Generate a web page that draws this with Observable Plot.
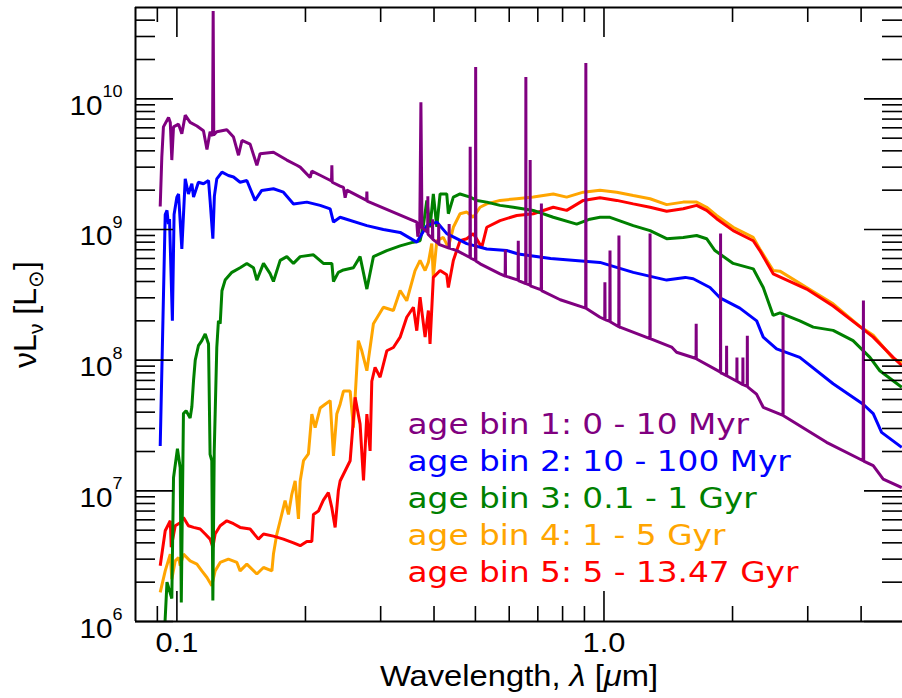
<!DOCTYPE html>
<html><head><meta charset="utf-8">
<script src="https://cdn.jsdelivr.net/npm/d3@7"></script>
<script src="https://cdn.jsdelivr.net/npm/@observablehq/plot@0.6"></script>
<style>html,body{margin:0;padding:0;background:#fff;overflow:hidden}</style>
</head><body><div id="chart"></div>
<script>
// wavelength [um], nu L_nu [L_sun]
const bin1 = [
[0.0914,1.5e9],[0.0922,3.6e9],[0.093,6.1e9],[0.0956,7.2e9],[0.0965,6.6e9],[0.0973,3.4e9],[0.0982,6.1e9],[0.1009,6.4e9],[0.1027,5.4e9],[0.1046,7.5e9],[0.1074,6.6e9],[0.1114,6.2e9],[0.1154,5.7e9],[0.1176,4.1e9],[0.1196,5.6e9],[0.1212,5.2e9],[0.1216,4.7e10],[0.122,5.3e9],[0.124,5.6e9],[0.1309,5.8e9],[0.1357,5.1e9],[0.1394,3.7e9],[0.142,4.8e9],[0.1484,4.5e9],[0.1539,3.1e9],[0.1566,3.8e9],[0.1683,3.9e9],[0.1809,3.4e9],[0.1909,3.1e9],[0.1944,3.0e9],[0.2051,2.5e9],[0.207,2.8e9],[0.2165,2.6e9],[0.2302,2.35e9],[0.2306,3.1e9],[0.231,2.3e9],[0.2411,2.15e9],[0.2455,2.1e9],[0.2477,1.75e9],[0.25,2.0e9],[0.2781,1.67e9],[0.2785,1.95e9],[0.2789,1.65e9],[0.3645,1.14e9],[0.3665,0.88e9],[0.3705,1.08e9],[0.3727,9.4e9],[0.3749,1.04e9],[0.3865,0.95e9],[0.3869,1.8e9],[0.3873,0.92e9],[0.3965,0.85e9],[0.3969,1.2e9],[0.3973,0.84e9],[0.4098,0.78e9],[0.4102,1.1e9],[0.4106,0.77e9],[0.4336,0.72e9],[0.434,1.1e9],[0.4344,0.72e9],[0.4525,6.9e8],[0.4855,6.1e8],[0.4861,4.3e9],[0.4867,6.05e8],[0.5001,5.8e8],[0.5007,1.75e10],[0.5013,5.75e8],[0.513,5.46e8],[0.571,4.58e8],[0.587,4.4e8],[0.5876,7e8],[0.5882,4.4e8],[0.6294,4.1e8],[0.63,8.2e8],[0.6306,4.07e8],[0.6557,3.85e8],[0.6563,1.47e10],[0.6569,3.85e8],[0.6711,3.75e8],[0.6717,3.4e9],[0.6723,3.7e8],[0.713,3.45e8],[0.7136,1.58e9],[0.7142,3.4e8],[0.79,2.9e8],[0.9061,2.5e8],[0.9069,1.88e10],[0.9077,2.5e8],[0.979,2.13e8],[1.004,2.05e8],[1.005,3.95e8],[1.006,2.04e8],[1.032,1.98e8],[1.033,6.9e8],[1.034,1.97e8],[1.083,1.8e8],[1.084,9.0e8],[1.085,1.79e8],[1.09,1.79e8],[1.281,1.46e8],[1.282,9.3e8],[1.283,1.46e8],[1.44,1.26e8],[1.479,1.15e8],[1.643,1.03e8],[1.644,1.9e8],[1.645,1.03e8],[1.648,1.02e8],[1.874,8.1e7],[1.875,9.3e8],[1.876,8.0e7],[1.902,7.85e7],[1.936,7.6e7],[1.937,1.29e8],[1.938,7.6e7],[2.047,6.9e7],[2.048,1.05e8],[2.049,6.9e7],[2.114,6.5e7],[2.115,1.05e8],[2.116,6.5e7],[2.165,6.3e7],[2.166,1.54e8],[2.167,6.3e7],[2.176,6.2e7],[2.276,5.5e7],[2.36,4.36e7],[2.625,3.78e7],[2.626,2.2e8],[2.627,3.77e7],[3.32,2.35e7],[4.044,1.7e7],[4.05,2.86e8],[4.056,1.69e7],[4.27,1.56e7],[4.506,1.23e7],[4.98,1.06e7]
];
const bin2 = [
[0.0914,2.2e7],[0.0939,1.3e9],[0.0948,1.4e9],[0.0955,1.1e9],[0.0961,1.2e9],[0.0976,2.0e8],[0.0985,1.3e9],[0.1,1.77e9],[0.1009,1.87e9],[0.1027,0.71e9],[0.1046,2.44e9],[0.1064,1.87e9],[0.1084,2.24e9],[0.1094,1.77e9],[0.1123,2.3e9],[0.1154,2.24e9],[0.1186,2.37e9],[0.1196,1.67e9],[0.1214,0.85e9],[0.1224,1.8e9],[0.124,2.44e9],[0.1275,2.75e9],[0.132,2.59e9],[0.1357,2.52e9],[0.1406,2.3e9],[0.1458,2.37e9],[0.1524,1.67e9],[0.158,1.99e9],[0.1683,2.05e9],[0.1776,1.93e9],[0.1875,1.57e9],[0.2015,1.62e9],[0.2165,1.53e9],[0.2285,1.44e9],[0.2326,1.14e9],[0.2411,1.24e9],[0.2785,1.07e9],[0.3044,1.0e9],[0.3332,0.95e9],[0.3645,0.8e9],[0.3847,1.07e9],[0.406,1.14e9],[0.4284,0.93e9],[0.4772,0.78e9],[0.5315,0.71e9],[0.592,0.69e9],[0.63,0.65e9],[0.75,0.6e9],[0.9787,0.56e9],[1.171,0.47e9],[1.402,0.41e9],[1.55,0.43e9],[1.618,0.42e9],[1.771,0.36e9],[1.869,0.30e9],[2.08,0.25e9],[2.278,0.20e9],[2.36,0.15e9],[2.536,0.122e9],[2.874,1.05e8],[3.44,6.6e7],[4.045,4.6e7],[4.27,3.9e7],[4.467,2.8e7],[4.98,2.15e7]
];
const bin3 = [
[0.0935,8e5],[0.0948,2.0e6],[0.0973,1.5e6],[0.0982,1.26e7],[0.1003,2.1e7],[0.1018,1.5e7],[0.1024,1.4e6],[0.1036,3.9e7],[0.1051,4.1e7],[0.1074,3.6e7],[0.1084,4.4e7],[0.1094,7.0e7],[0.1104,1.0e8],[0.1123,1.29e8],[0.1144,1.41e8],[0.1165,1.59e8],[0.1186,1.33e8],[0.1196,1.9e7],[0.1207,1.7e7],[0.1214,1.45e6],[0.1223,2.0e7],[0.124,1.25e8],[0.1251,2.0e8],[0.1263,1.9e8],[0.1275,3.4e8],[0.1297,4.1e8],[0.1345,4.7e8],[0.1406,5.1e8],[0.1458,5.5e8],[0.1511,5.1e8],[0.1539,4.1e8],[0.1595,5.5e8],[0.1653,4.6e8],[0.1683,4.0e8],[0.1745,5.8e8],[0.1809,6.2e8],[0.1875,5.5e8],[0.1944,6.2e8],[0.2088,6.4e8],[0.2203,5.5e8],[0.2306,5.5e8],[0.2326,4.0e8],[0.2388,4.7e8],[0.2455,4.9e8],[0.259,5.1e8],[0.2685,6.2e8],[0.2785,3.5e8],[0.2885,6.2e8],[0.3101,6.9e8],[0.3332,7.5e8],[0.3579,8.0e8],[0.371,8.2e8],[0.3777,1.07e9],[0.3847,1.67e9],[0.3915,1.04e9],[0.3985,1.87e9],[0.406,1.05e9],[0.4133,1.87e9],[0.4284,1.87e9],[0.4321,1.32e9],[0.4439,1.77e9],[0.4603,1.87e9],[0.486,1.77e9],[0.5038,1.67e9],[0.5315,1.62e9],[0.571,1.53e9],[0.6134,1.48e9],[0.6832,1.4e9],[0.7608,1.24e9],[0.8632,1.1e9],[0.927,1.2e9],[0.9787,1.24e9],[1.033,1.24e9],[1.171,1.07e9],[1.282,0.98e9],[1.402,0.85e9],[1.533,0.87e9],[1.648,0.9e9],[1.739,0.85e9],[1.819,0.69e9],[2.007,0.55e9],[2.236,0.5e9],[2.36,0.36e9],[2.49,0.22e9],[2.582,0.23e9],[2.874,2.0e8],[3.09,1.79e8],[3.44,1.69e8],[3.83,1.41e8],[4.195,1.05e8],[4.424,8.3e7],[4.98,6.2e7]
];
const bin4 = [
[0.0914,1.67e6],[0.0939,2.44e6],[0.0965,3.28e6],[0.0973,2.11e6],[0.0991,2.91e6],[0.1009,3.09e6],[0.1018,2.67e6],[0.1036,3.28e6],[0.1074,2.91e6],[0.1114,2.75e6],[0.1144,2.44e6],[0.1176,2.17e6],[0.1207,1.88e6],[0.1229,2.44e6],[0.1263,2.83e6],[0.132,3.0e6],[0.1382,2.83e6],[0.1406,2.44e6],[0.1458,2.75e6],[0.1539,2.31e6],[0.1595,2.59e6],[0.1669,2.44e6],[0.1683,3.28e6],[0.1714,4.67e6],[0.1745,5.9e6],[0.1792,8.4e6],[0.1825,6.6e6],[0.1858,9.4e6],[0.1892,1.19e7],[0.1926,6.1e6],[0.1944,1.19e7],[0.1979,1.7e7],[0.2032,1.92e7],[0.207,3.87e7],[0.2107,3.05e7],[0.2165,4.3e7],[0.2224,4.6e7],[0.2285,4.9e7],[0.2326,1.85e7],[0.2368,3.87e7],[0.2411,4.6e7],[0.2455,5.8e7],[0.2545,5.8e7],[0.259,3.05e7],[0.266,1.41e8],[0.271,1.18e8],[0.2785,8.3e7],[0.2885,1.9e8],[0.3044,2.54e8],[0.3213,2.4e8],[0.3332,3.41e8],[0.3453,2.85e8],[0.3611,4.85e8],[0.371,5.8e8],[0.3812,4.85e8],[0.388,5.6e8],[0.3952,7.8e8],[0.3985,4.3e8],[0.406,8.2e8],[0.4205,8.7e8],[0.4321,7.3e8],[0.4439,1.04e9],[0.4603,1.32e9],[0.4772,1.36e9],[0.4945,1.24e9],[0.5127,1.48e9],[0.5315,1.57e9],[0.571,1.67e9],[0.6248,1.72e9],[0.6832,1.77e9],[0.7608,1.87e9],[0.8178,1.77e9],[0.8945,1.93e9],[0.9787,2.0e9],[1.071,1.93e9],[1.171,1.82e9],[1.282,1.72e9],[1.402,1.55e9],[1.533,1.62e9],[1.648,1.62e9],[1.739,1.48e9],[1.835,1.28e9],[2.007,1.04e9],[2.236,0.87e9],[2.317,0.71e9],[2.49,4.85e8],[2.582,4.8e8],[2.982,3.6e8],[3.44,2.7e8],[3.987,1.8e8],[4.27,1.55e8],[4.754,1.03e8],[4.98,9.6e7]
];
const bin5 = [
[0.0914,2.67e6],[0.0939,4.95e6],[0.0965,5.9e6],[0.097,3.7e6],[0.0991,5.4e6],[0.1018,5.7e6],[0.1036,6.25e6],[0.1064,5.4e6],[0.1094,5.25e6],[0.1134,5.1e6],[0.1165,4.67e6],[0.1196,4.27e6],[0.1214,3.7e6],[0.1229,4.67e6],[0.1263,5.4e6],[0.1309,5.9e6],[0.1357,5.6e6],[0.1406,5.25e6],[0.1484,5.1e6],[0.1552,4.27e6],[0.1595,4.67e6],[0.1683,4.5e6],[0.1776,4.27e6],[0.1875,4.0e6],[0.1944,3.8e6],[0.2015,4.1e6],[0.207,4.1e6],[0.2088,6.6e6],[0.2145,7.0e6],[0.2203,8.5e6],[0.2263,9.7e6],[0.2306,7.4e6],[0.2347,5.25e6],[0.2388,1.0e7],[0.2411,1.19e7],[0.2545,1.7e7],[0.2614,5.2e7],[0.2685,3.24e7],[0.2735,1.2e7],[0.2785,3.87e7],[0.2834,2.02e7],[0.286,6.9e7],[0.2911,8.8e7],[0.2991,7.4e7],[0.3101,1.18e8],[0.3213,1.25e8],[0.3332,1.5e8],[0.3453,2.13e8],[0.3579,2.54e8],[0.3645,1.68e8],[0.371,3.03e8],[0.3812,1.5e8],[0.388,2.4e8],[0.3915,1.33e8],[0.3985,4.3e8],[0.4133,4.85e8],[0.4284,4.5e8],[0.4321,3.6e8],[0.4439,5.8e8],[0.4603,8.2e8],[0.4772,8.5e8],[0.4945,9.3e8],[0.5174,7.3e8],[0.5315,1.04e9],[0.571,1.17e9],[0.6248,1.28e9],[0.6832,1.32e9],[0.7608,1.48e9],[0.8178,1.4e9],[0.8945,1.67e9],[0.9787,1.75e9],[1.071,1.67e9],[1.171,1.57e9],[1.282,1.48e9],[1.402,1.38e9],[1.533,1.44e9],[1.648,1.53e9],[1.739,1.4e9],[1.835,1.21e9],[2.007,0.98e9],[2.236,0.82e9],[2.317,0.69e9],[2.49,4.58e8],[2.982,3.5e8],[3.44,2.6e8],[3.987,1.79e8],[4.27,1.5e8],[4.754,1.05e8],[4.98,9.1e7]
];

const seriesNames = ["age bin 1: 0 - 10 Myr","age bin 2: 10 - 100 Myr","age bin 3: 0.1 - 1 Gyr","age bin 4: 1 - 5 Gyr","age bin 5: 5 - 13.47 Gyr"];
const seriesColors = ["#800080","#0000ff","#008000","#ffa500","#ff0000"];
const xMajorTicks = [0.1, 1];
const xTickLabels = ["0.1", "1.0"];
const xMinorTicks = [0.09, 0.2, 0.3, 0.4, 0.5, 0.6, 0.7, 0.8, 0.9, 2, 3, 4];
const yMajorTicks = [1e6, 1e7, 1e8, 1e9, 1e10];
const yTickLabels = ["10^{6}", "10^{7}", "10^{8}", "10^{9}", "10^{10}"];
const yDecades = [1e6, 1e7, 1e8, 1e9, 1e10];
const yMultipliers = [2, 3, 4, 5, 6, 7, 8, 9];
const xTitle = "Wavelength, *{λ} [*{μ}m]";
const yTitle = "νL_{ν} [L_{⊙}]";

const yMinorTicks = yDecades.flatMap(d => yMultipliers.map(m => d * m)).filter(v => v < 5e10);

const W = 902, H = 698, mL = 135, mR = 0, mT = 7, mB = 77;
const PW = W - mL - mR, PH = H - mT - mB;
const series = [bin1, bin2, bin3, bin4, bin5];
const drawOrder = [3, 4, 2, 1, 0];
const axisFont = "Liberation Sans, Arial, sans-serif";
const tk = {stroke: "black", strokeWidth: 1.6};

const marks = [
  ...drawOrder.map(i => Plot.line(series[i], {x: d => d[0], y: d => d[1], stroke: seriesColors[i], strokeWidth: 3, strokeLinejoin: "miter", strokeMiterlimit: 1, strokeLinecap: "butt", clip: true})),
  Plot.tickX(xMajorTicks, {x: d => d, insetTop: PH - 30, ...tk}),
  Plot.tickX(xMajorTicks, {x: d => d, insetBottom: PH - 30, ...tk}),
  Plot.tickX(xMinorTicks, {x: d => d, insetTop: PH - 15, ...tk}),
  Plot.tickX(xMinorTicks, {x: d => d, insetBottom: PH - 15, ...tk}),
  Plot.tickY(yMajorTicks, {y: d => d, insetRight: PW - 38, ...tk}),
  Plot.tickY(yMajorTicks, {y: d => d, insetLeft: PW - 38, ...tk}),
  Plot.tickY(yMinorTicks, {y: d => d, insetRight: PW - 20, ...tk}),
  Plot.tickY(yMinorTicks, {y: d => d, insetLeft: PW - 20, ...tk}),
  Plot.ruleX([0.08], {stroke: "black", strokeWidth: 2}),
  Plot.ruleY([1e6], {stroke: "black", strokeWidth: 2}),
  Plot.ruleY([5e10], {stroke: "black", strokeWidth: 2}),
  Plot.text(yMajorTicks, {y: d => d, text: (d, i) => yTickLabels[i], frameAnchor: "left", textAnchor: "end", lineAnchor: "bottom", dx: -13, dy: 16, fontSize: 28, fontFamily: axisFont, fill: "black", ariaDescription: "ytick"}),
  Plot.text(xMajorTicks, {x: d => d, text: (d, i) => xTickLabels[i], frameAnchor: "bottom", textAnchor: "middle", lineAnchor: "bottom", dy: 30, fontSize: 28, fontFamily: axisFont, fill: "black", ariaDescription: "xtick"}),
  Plot.text([xTitle], {text: d => d, frameAnchor: "bottom", textAnchor: "middle", lineAnchor: "bottom", dy: 64, fontSize: 30, fontFamily: axisFont, fill: "black", ariaDescription: "xtitle"}),
  Plot.text([yTitle], {text: d => d, frameAnchor: "left", rotate: -90, textAnchor: "middle", lineAnchor: "bottom", dx: -100, fontSize: 32, fontFamily: axisFont, fill: "black", ariaDescription: "ytitle"}),
  ...seriesNames.map((name, i) => Plot.text([name], {text: d => d, frameAnchor: "top-left", textAnchor: "start", lineAnchor: "bottom", dx: 272, dy: 426.3 + i * 37.1, fontSize: 29, fontFamily: "DejaVu Sans", fill: seriesColors[i], ariaDescription: "legend"}))
];

const plot = Plot.plot({
  width: W, height: H,
  marginLeft: mL, marginRight: mR, marginTop: mT, marginBottom: mB,
  x: {type: "log", domain: [0.08, 5], axis: null},
  y: {type: "log", domain: [1e6, 5e10], axis: null},
  marks
});
document.getElementById("chart").appendChild(plot);

const SVGNS = "http://www.w3.org/2000/svg";
function applyRich(el, cfg) {
  const s = el.textContent;
  const re = /([\^_*])\{([^}]*)\}/g;
  if (!/([\^_*])\{/.test(s)) return;
  const parts = []; let last = 0, m;
  while ((m = re.exec(s))) {
    if (m.index > last) parts.push({t: s.slice(last, m.index), k: ""});
    parts.push({t: m[2], k: m[1]});
    last = re.lastIndex;
  }
  if (last < s.length) parts.push({t: s.slice(last), k: ""});
  el.textContent = "";
  let cur = 0;
  for (const p of parts) {
    const ts = document.createElementNS(SVGNS, "tspan");
    let off = 0;
    if (p.k === "^") { off = cfg.supShift; ts.setAttribute("font-size", cfg.supSize); }
    else if (p.k === "_") { off = cfg.subShift; ts.setAttribute("font-size", cfg.subSize); }
    else if (p.k === "*") { ts.setAttribute("font-style", "italic"); }
    if (off !== cur) { ts.setAttribute("dy", off - cur); cur = off; }
    ts.textContent = p.t;
    el.appendChild(ts);
  }
}
function stretch(el, f) {
  const L = el.getComputedTextLength();
  el.setAttribute("textLength", (L * f).toFixed(1));
  el.setAttribute("lengthAdjust", "spacingAndGlyphs");
}
const styleCfg = {
  ytick: {rich: {supShift: -17.5, supSize: 17}, stretch: 1.06},
  xtick: {stretch: 1.1},
  xtitle: {rich: {}, stretch: 1.09},
  ytitle: {rich: {subShift: 7, subSize: 21}},
  legend: {stretch: 1.13}
};
for (const [key, cfg] of Object.entries(styleCfg)) {
  plot.querySelectorAll(`g[aria-description="${key}"] text`).forEach(el => {
    if (cfg.rich) applyRich(el, cfg.rich);
    if (cfg.stretch) stretch(el, cfg.stretch);
  });
}
</script>
</body></html>
